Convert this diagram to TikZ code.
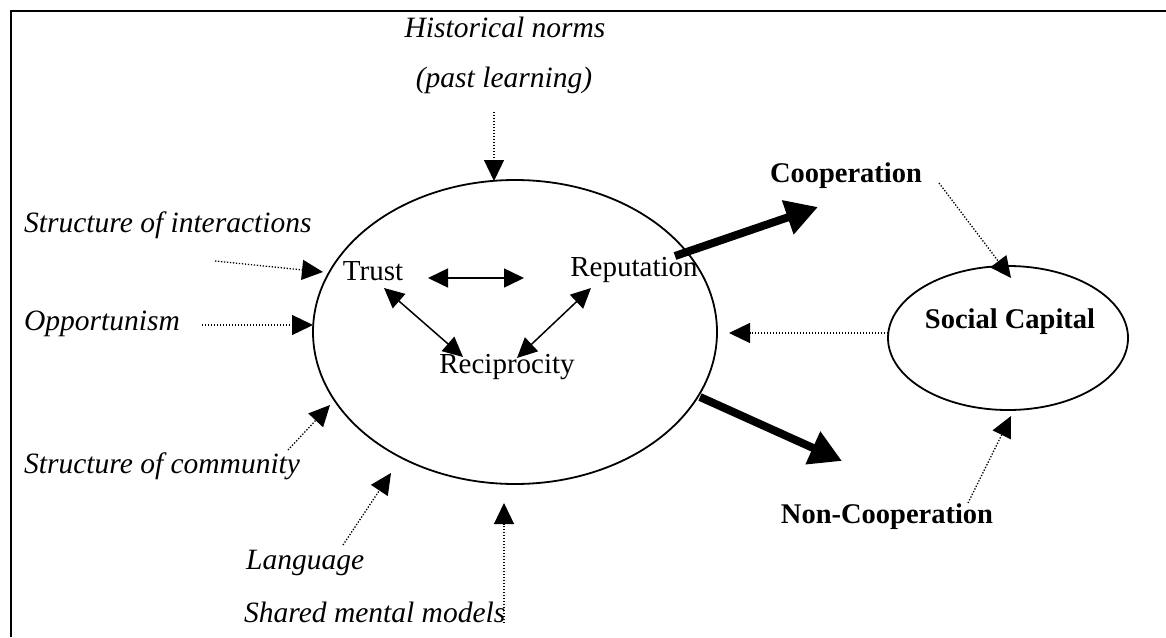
\documentclass[tikz,border=0pt]{standalone}
\usepackage{fontspec}
\setmainfont{Liberation Serif}
\usetikzlibrary{arrows.meta,shapes.geometric}
\tikzset{
  lbl/.style={inner sep=0pt,font=\fontsize{29.5}{34}\selectfont\itshape},
  word/.style={inner sep=0pt,font=\fontsize{29}{33}\selectfont},
  bword/.style={inner sep=0pt,font=\fontsize{28.5}{32}\selectfont\bfseries},
  dotarrow/.style={line width=1.3pt,dash pattern=on 1.3pt off 1.7pt,-{Triangle[length=21pt,width=20pt]}},
  duo/.style={line width=1.5pt,{Triangle[length=20pt,width=19pt]}-{Triangle[length=20pt,width=19pt]}},
  thick arrow/.style={line width=8pt,-{Triangle[length=32pt,width=34pt]}},
}
\begin{document}
\begin{tikzpicture}[x=1pt,y=-1pt]
\useasboundingbox (0,0) rectangle (1166,637);
\draw[line width=2pt] (11,637) -- (11,11) -- (1166,11);

\node[draw,ellipse,line width=1.8pt,minimum width=404pt,minimum height=304pt,inner sep=0pt] (big) at (515,332) {};
\node[draw,ellipse,line width=1.8pt,minimum width=240pt,minimum height=144pt,inner sep=0pt] (sc) at (1008,338) {};

\node[lbl] (hist) at (505,27) {Historical norms};
\node[lbl] (past) at (504,80) {(past learning)};
\node[lbl,anchor=west] (inter) at (24,225) {Structure of interactions};
\node[lbl,anchor=west] (opp) at (24,324) {Opportunism};
\node[lbl,anchor=west] (comm) at (24,466) {Structure of community};
\node[lbl,anchor=west] (lang) at (246,563) {Language};
\node[lbl,anchor=west] (shared) at (244,612) {Shared mental models};

\node[word] (trust) at (373,271) {Trust};
\node[word] (rep) at (634,270) {Reputation};
\node[word] (rec) at (507,367) {Reciprocity};

\node[bword] (coop) at (846,176) {Cooperation};
\node[bword] (noncoop) at (887,517) {Non-Cooperation};
\node[bword] (scl) at (1010,322) {Social Capital};

% free ends and tips
\coordinate (h0) at (494,112);
\coordinate (h1) at (494,181);
\coordinate (i0) at (215,261);
\coordinate (i1) at (323,272);
\coordinate (o0) at (202,325);
\coordinate (o1) at (313,325);
\coordinate (c0) at (288,450);
\coordinate (c1) at (330,405);
\coordinate (l0) at (343,545);
\coordinate (l1) at (391,473);
\coordinate (s0) at (504,623);
\coordinate (s1) at (504,503);
\coordinate (k0) at (939,183);
\coordinate (k1) at (1011,278);
\coordinate (m0) at (888,333);
\coordinate (m1) at (729,333);
\coordinate (n0) at (968,503);
\coordinate (n1) at (1011,416);

\draw[dotarrow] (h0) -- (h1);
\draw[dotarrow] (i0) -- (i1);
\draw[dotarrow] (o0) -- (o1);
\draw[dotarrow] (c0) -- (c1);
\draw[dotarrow] (l0) -- (l1);
\draw[dotarrow] (s0) -- (s1);
\draw[dotarrow] (k0) -- (k1);
\draw[dotarrow] (m0) -- (m1);
\draw[dotarrow] (n0) -- (n1);

% inner relations
\coordinate (tr0) at (428,278);
\coordinate (tr1) at (524,278);
\coordinate (tc0) at (384,288);
\coordinate (tc1) at (463,357);
\coordinate (rc0) at (591,288);
\coordinate (rc1) at (517,358);
\draw[duo] (tr0) -- (tr1);
\draw[duo] (tc0) -- (tc1);
\draw[duo] (rc0) -- (rc1);

% thick arrows
\coordinate (ta0) at (675,256);
\coordinate (ta1) at (818,207);
\coordinate (tb0) at (700,397);
\coordinate (tb1) at (842,461);
\draw[thick arrow] (ta0) -- (ta1);
\draw[thick arrow] (tb0) -- (tb1);
\end{tikzpicture}
\end{document}
